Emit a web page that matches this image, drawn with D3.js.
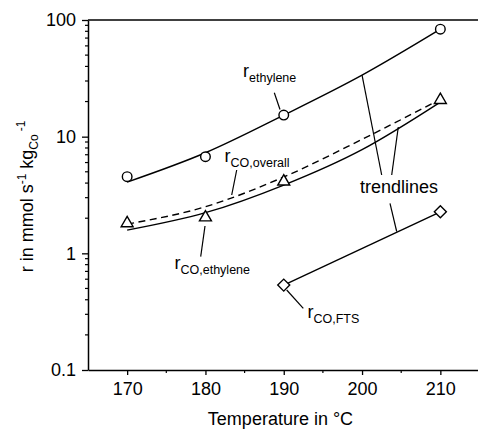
<!DOCTYPE html>
<html>
<head>
<meta charset="utf-8">
<script src="https://cdn.jsdelivr.net/npm/d3@7"></script>
<style>
  body { margin: 0; background: #fff; }
  svg text { font-family: Arial, "Liberation Sans", sans-serif; fill: #000; }
</style>
</head>
<body>
<svg id="chart" width="478" height="429"></svg>
<script>
// measured points
const temps = [170, 180, 190, 210];
const ethylene = [4.54, 6.73, 15.3, 83.5];
const coEthylene = [1.81, 2.03, 4.12, 20.6];
const ftsTemps = [190, 210];
const coFts = [0.534, 2.27];

// trendlines
const fitTemps = [170, 180, 190, 200, 210];
const fitEthylene = [4.08, 7.28, 15.3, 33.7, 83.5];
const fitCoEthylene = [1.58, 2.23, 3.85, 7.75, 19.8];
const fitCoOverall = [1.78, 2.51, 4.51, 9.48, 20.9];
const fitFts = [0.534, 2.27];

const xTicks = [170, 180, 190, 200, 210];
const yTicks = [0.1, 1, 10, 100];
const yTickLabels = ["0.1", "1", "10", "100"];

const svg = d3.select("#chart");
const mLeft = 88, mRight = 479.5, mTop = 20, mBottom = 370;

const x = d3.scaleLinear().domain([165, 215]).range([mLeft, mRight]);
const y = d3.scaleLog().domain([0.1, 100]).range([mBottom, mTop]);

// axes
const xAxis = svg.append("g")
  .attr("transform", `translate(0,${mBottom})`)
  .call(d3.axisBottom(x).tickValues(xTicks).tickSize(5).tickPadding(7).tickSizeOuter(0));
const yAxis = svg.append("g")
  .attr("transform", `translate(${mLeft},0)`)
  .call(d3.axisLeft(y).tickValues(yTicks).tickFormat((d, i) => yTickLabels[i])
    .tickSize(6).tickPadding(6).tickSizeOuter(0));

[xAxis, yAxis].forEach(a => {
  a.select(".domain").attr("stroke", "#000").attr("stroke-width", 1.5);
  a.selectAll(".tick line").attr("stroke", "#000").attr("stroke-width", 1.3);
  a.selectAll(".tick text").style("font-size", "18px").attr("fill", "#000");
});

// minor ticks
const xMinor = [175, 185, 195, 205];
svg.append("g").selectAll("line").data(xMinor).join("line")
  .attr("x1", d => x(d)).attr("x2", d => x(d))
  .attr("y1", mBottom).attr("y2", mBottom + 3)
  .attr("stroke", "#000").attr("stroke-width", 1.2);

const yMinor = [];
[0.1, 1, 10].forEach(dec => { for (let k = 2; k <= 9; k++) yMinor.push(dec * k); });
svg.append("g").selectAll("line").data(yMinor).join("line")
  .attr("x1", mLeft - 3).attr("x2", mLeft)
  .attr("y1", d => y(d)).attr("y2", d => y(d))
  .attr("stroke", "#000").attr("stroke-width", 1.2);

// top frame line
svg.append("line")
  .attr("x1", mLeft).attr("x2", mRight).attr("y1", mTop).attr("y2", mTop)
  .attr("stroke", "#000").attr("stroke-width", 1.5);

// trendlines
const curve = d3.line().x(d => x(d[0])).y(d => y(d[1])).curve(d3.curveMonotoneX);
const zip = (a, b) => a.map((v, i) => [v, b[i]]);

svg.append("path").attr("d", curve(zip(fitTemps, fitEthylene)))
  .attr("fill", "none").attr("stroke", "#000").attr("stroke-width", 1.4);
svg.append("path").attr("d", curve(zip(fitTemps, fitCoEthylene)))
  .attr("fill", "none").attr("stroke", "#000").attr("stroke-width", 1.4);
svg.append("path").attr("d", curve(zip(fitTemps, fitCoOverall)))
  .attr("fill", "none").attr("stroke", "#000").attr("stroke-width", 1.4)
  .attr("stroke-dasharray", "7,4.5");
svg.append("path").attr("d", curve(zip(ftsTemps, fitFts)))
  .attr("fill", "none").attr("stroke", "#000").attr("stroke-width", 1.4);

// leader lines
const leaders = [
  [274.3, 92.7, 280, 109.5],
  [236.7, 170, 231.7, 195],
  [200.7, 256.7, 205, 226],
  [286.7, 290, 303.3, 308.3],
  [381.7, 175, x(200), y(fitEthylene[3])],
  [391.7, 175, 398.3, 127],
  [390, 203.3, 396.7, 231.5]
];
svg.append("g").selectAll("line").data(leaders).join("line")
  .attr("x1", d => d[0]).attr("y1", d => d[1]).attr("x2", d => d[2]).attr("y2", d => d[3])
  .attr("stroke", "#000").attr("stroke-width", 1.2);

// markers
const mk = svg.append("g").attr("fill", "#fff").attr("stroke", "#000").attr("stroke-width", 1.4);
mk.selectAll(".c").data(zip(temps, ethylene)).join("circle").attr("class", "c")
  .attr("cx", d => x(d[0])).attr("cy", d => y(d[1])).attr("r", 4.8);
const tri = d3.symbol().type(d3.symbolTriangle).size(62);
mk.selectAll(".t").data(zip(temps, coEthylene)).join("path").attr("class", "t")
  .attr("d", tri).attr("transform", d => `translate(${x(d[0])},${y(d[1])})`);
const sq = d3.symbol().type(d3.symbolSquare).size(72);
mk.selectAll(".d").data(zip(ftsTemps, coFts)).join("path").attr("class", "d")
  .attr("d", sq).attr("transform", d => `translate(${x(d[0])},${y(d[1])}) rotate(45)`);

// labels with subscripts
function label(px, py, sub) {
  const t = svg.append("text").attr("x", px).attr("y", py).style("font-size", "18px");
  t.append("tspan").text("r");
  t.append("tspan").attr("dy", 5).style("font-size", "12.5px").text(sub);
}
label(243, 77, "ethylene");
label(224.5, 161.7, "CO,overall");
label(174.5, 269, "CO,ethylene");
label(307.5, 318, "CO,FTS");

svg.append("text").attr("x", 360).attr("y", 193.3).style("font-size", "18px").text("trendlines");

// axis titles
svg.append("text").attr("x", 280.5).attr("y", 425).attr("text-anchor", "middle")
  .style("font-size", "18px").text("Temperature in °C");

const yl = svg.append("text").attr("transform", "translate(32.5,196.5) rotate(-90)")
  .attr("text-anchor", "middle").style("font-size", "18px");
yl.append("tspan").text("r in mmol s");
yl.append("tspan").attr("dy", -7).style("font-size", "12px").text("-1");
yl.append("tspan").attr("dy", 7).text(" kg");
yl.append("tspan").attr("dy", 5).style("font-size", "12px").text("Co");
yl.append("tspan").attr("dy", -13).attr("dx", 3).style("font-size", "12px").text("-1");
</script>
</body>
</html>
